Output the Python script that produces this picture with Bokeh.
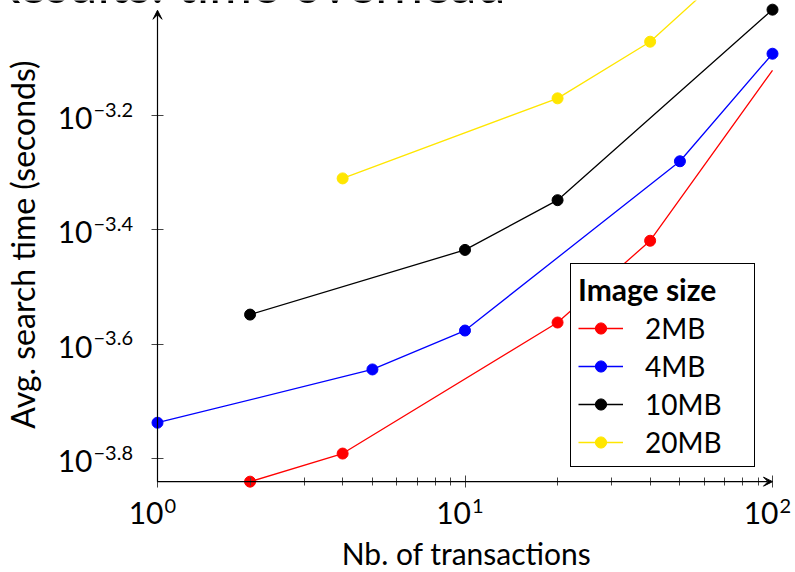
import math
from bokeh.plotting import figure
from bokeh.models import (FixedTicker, Label, Arrow, VeeHead, Legend, LegendItem,
                          CustomJSTickFormatter, Range1d)
from bokeh.embed import file_html
from bokeh.resources import INLINE

# ---------------- data ----------------
transactions_2mb = [2, 4, 20, 40, 100]
time_2mb = [1.445e-4, 1.618e-4, 2.742e-4, 3.811e-4, 7.568e-4]
transactions_4mb = [1, 5, 10, 50, 100]
time_4mb = [1.832e-4, 2.270e-4, 2.655e-4, 5.248e-4, 8.091e-4]
transactions_10mb = [2, 10, 20, 100]
time_10mb = [2.831e-4, 3.673e-4, 4.487e-4, 9.661e-4]
transactions_20mb = [4, 20, 40, 100]
time_20mb = [4.898e-4, 6.761e-4, 8.492e-4, 1.327e-3]

series_labels = ["2MB", "4MB", "10MB", "20MB"]
series_colors = ["#ff0000", "#0000ff", "#000000", "#ffe600"]

x_major_ticks = [1, 10, 100]
x_minor_ticks = [2, 3, 4, 5, 6, 7, 8, 9, 20, 30, 40, 50, 60, 70, 80, 90]
x_tick_exponents = ["0", "1", "2"]
y_major_ticks = [10 ** -3.8, 10 ** -3.6, 10 ** -3.4, 10 ** -3.2]
y_tick_exponents = ["\u22123.8", "\u22123.6", "\u22123.4", "\u22123.2"]

x_axis_min, x_axis_max = 1, 100
y_axis_min, y_axis_max = 1.445e-4, 10 ** -3.016

title_text = "Results: time overhead"
x_label = "Nb. of transactions"
y_label = "Avg. search time (seconds)"
legend_title = "Image size"

FONT = "Lato"

# ---------------- layout (pixel mapping) ----------------
W, H = 795, 572
X0_PX, X_DEC = 157.0, 307.5                # px of x=1, px per decade
Y0_PX, Y_DEC = 115.0, 572.0                # px of y=10^-3.2, px per decade


def sx(px):
    return 10 ** ((px - X0_PX) / X_DEC)


def sy(py):
    return 10 ** (-3.2 - (py - Y0_PX) / Y_DEC)


p = figure(width=W, height=H, x_axis_type="log", y_axis_type="log",
           x_range=Range1d(sx(0), sx(W)), y_range=Range1d(sy(H), sy(0)),
           output_backend="svg", toolbar_location=None,
           min_border=0, min_border_left=0, min_border_right=0,
           min_border_top=0, min_border_bottom=0)
p.outline_line_color = None
p.xgrid.visible = False
p.ygrid.visible = False
p.background_fill_color = "white"
p.border_fill_color = "white"

blank = CustomJSTickFormatter(code="return ''")

xa = p.xaxis[0]
xa.ticker = FixedTicker(ticks=x_major_ticks, minor_ticks=x_minor_ticks)
xa.fixed_location = y_axis_min
xa.formatter = blank
xa.axis_line_color = None
xa.major_tick_in = 6
xa.major_tick_out = 6
xa.minor_tick_in = 4
xa.minor_tick_out = 4
xa.major_tick_line_color = "#444444"
xa.minor_tick_line_color = "#444444"
xa.major_label_text_font_size = "1px"

ya = p.yaxis[0]
ya.ticker = FixedTicker(ticks=y_major_ticks, minor_ticks=[])
ya.fixed_location = x_axis_min
ya.formatter = blank
ya.axis_line_color = None
ya.major_tick_in = 6
ya.major_tick_out = 6
ya.minor_tick_in = 0
ya.minor_tick_out = 0
ya.major_tick_line_color = "#444444"
ya.major_label_text_font_size = "1px"

# axis lines with arrows
p.add_layout(Arrow(end=VeeHead(size=9, fill_color="black", line_color="black", line_width=1),
                   x_start=x_axis_min, y_start=y_axis_min, x_end=x_axis_max, y_end=y_axis_min,
                   line_color="black", line_width=1.2))
p.add_layout(Arrow(end=VeeHead(size=9, fill_color="black", line_color="black", line_width=1),
                   x_start=x_axis_min, y_start=y_axis_min, x_end=x_axis_min, y_end=y_axis_max,
                   line_color="black", line_width=1.2))

# series
all_x = [transactions_2mb, transactions_4mb, transactions_10mb, transactions_20mb]
all_y = [time_2mb, time_4mb, time_10mb, time_20mb]
items = []
for i, (xs, ys, lab, col) in enumerate(zip(all_x, all_y, series_labels, series_colors)):
    lr = p.line(xs, ys, line_color=col, line_width=1.3)
    # the 2MB series shows no marker at its last point
    mx, my = (xs[:-1], ys[:-1]) if i == 0 else (xs, ys)
    sr = p.scatter(mx, my, marker="circle", size=11, fill_color=col, line_color=col)
    items.append(LegendItem(label=lab, renderers=[lr, sr]))

legend = Legend(items=items, title=legend_title, location=(570, 105),
                title_text_font=FONT, title_text_font_style="bold", title_text_font_size="30px",
                title_text_color="black",
                label_text_font=FONT, label_text_font_size="28px", label_text_color="black",
                glyph_width=45, glyph_height=28, label_height=28, label_width=102, spacing=4,
                padding=7, margin=0, label_standoff=22, title_standoff=4,
                border_line_color="black", border_line_width=1.2, border_line_alpha=1,
                background_fill_color="white", background_fill_alpha=1)
p.add_layout(legend)

# tick labels (10 with raised exponent)
for t, e in zip(y_major_ticks, y_tick_exponents):
    p.add_layout(Label(x=x_axis_min, y=t, x_offset=-65, y_offset=-2.5, text="10",
                       text_align="right", text_baseline="middle",
                       text_font=FONT, text_font_size="30px", text_color="black"))
    p.add_layout(Label(x=x_axis_min, y=t, x_offset=-64, y_offset=6, text=e,
                       text_align="left", text_baseline="middle",
                       text_font=FONT, text_font_size="20px", text_color="black"))
for t, e in zip(x_major_ticks, x_tick_exponents):
    p.add_layout(Label(x=t, y=y_axis_min, x_offset=6, y_offset=-31, text="10",
                       text_align="right", text_baseline="middle",
                       text_font=FONT, text_font_size="30px", text_color="black"))
    p.add_layout(Label(x=t, y=y_axis_min, x_offset=7, y_offset=-24, text=e,
                       text_align="left", text_baseline="middle",
                       text_font=FONT, text_font_size="20px", text_color="black"))

# axis titles
p.add_layout(Label(x=sx(466), y=y_axis_min, y_offset=-71, text=x_label,
                   text_align="center", text_baseline="middle",
                   text_font=FONT, text_font_size="30px", text_color="black"))
p.add_layout(Label(x=sx(22), y=sy(244), angle=math.pi / 2, text=y_label,
                   text_align="center", text_baseline="middle",
                   text_font=FONT, text_font_size="32px", text_color="black"))

# slide title (cut off by the top edge)
p.add_layout(Label(x=sx(505), y=sy(-18), text=title_text,
                   text_align="right", text_baseline="middle",
                   text_font=FONT, text_font_size="52px", text_color="black"))

open("out.html", "w").write(file_html(p, INLINE))
